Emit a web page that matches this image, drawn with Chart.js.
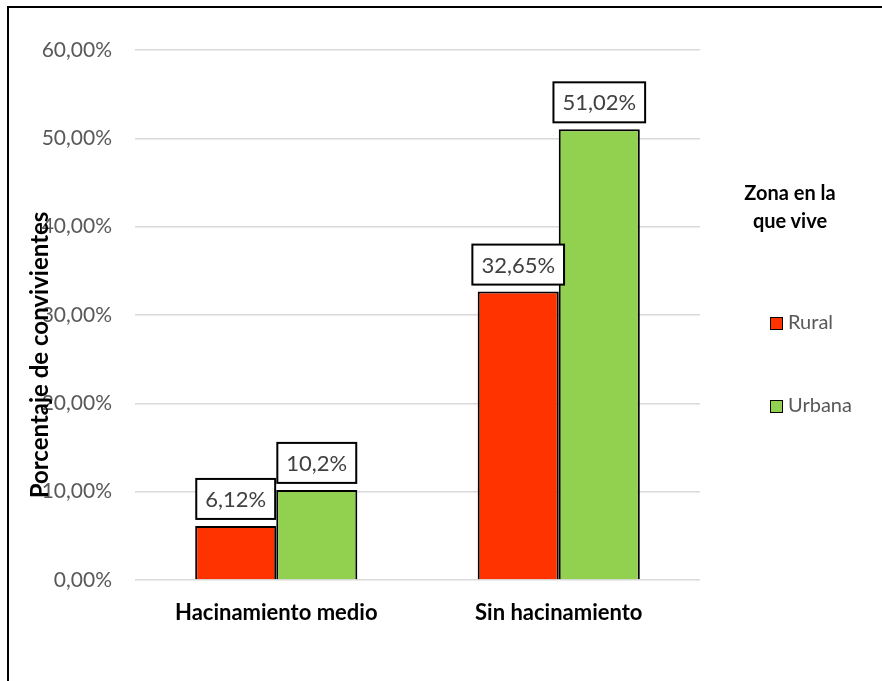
<!DOCTYPE html>
<html>
<head>
<meta charset="utf-8">
<script src="https://cdn.jsdelivr.net/npm/chart.js@4.4.1/dist/chart.umd.min.js"></script>
<style>
  html, body { margin: 0; padding: 0; background: #fff; }
  #wrap { position: relative; width: 882px; height: 681px; overflow: hidden; }
  #frame { position: absolute; left: 7px; top: 6px; width: 900px; height: 700px;
           border-top: 2px solid #000; border-left: 2px solid #000; }
  #chart { position: absolute; left: 0; top: 0; }
  #legend { position: absolute; left: 720px; top: 178px; width: 140px;
            font-family: Lato, sans-serif; }
  #legend .title { text-align: center; font-weight: bold; font-size: 20px; line-height: 28px; color: #000; }
  #legend .item { position: absolute; left: 50px; font-size: 20px; color: #595959; white-space: nowrap; }
  #legend .sw { display: inline-block; width: 11px; height: 11px; border: 1.5px solid #000;
                margin-right: 5px; vertical-align: -1px; }
</style>
</head>
<body>
<div id="wrap">
  <div id="frame"></div>
  <canvas id="chart" width="882" height="681"></canvas>
  <div id="legend"></div>
</div>
<script>
const categories = ['Hacinamiento medio', 'Sin hacinamiento'];
const seriesNames = ['Rural', 'Urbana'];
const rural = [6.12, 32.65];
const urbana = [10.2, 51.02];
const labelsRural = ['6,12%', '32,65%'];
const labelsUrbana = ['10,2%', '51,02%'];
const yTicks = [0, 10, 20, 30, 40, 50, 60];
const colors = ['#FF3300', '#92D050'];
const legendTitle = ['Zona en la', 'que vive'];
const axisTitle = 'Porcentaje de convivientes';

const fmtTick = v => v.toFixed(2).replace('.', ',') + '%';

const boxLabels = {
  id: 'boxLabels',
  afterDatasetsDraw(chart) {
    const ctx = chart.ctx;
    const texts = [labelsRural, labelsUrbana];
    ctx.save();
    ctx.font = '22px Lato, sans-serif';
    ctx.textAlign = 'center';
    ctx.textBaseline = 'middle';
    chart.data.datasets.forEach((ds, i) => {
      chart.getDatasetMeta(i).data.forEach((bar, j) => {
        const t = texts[i][j];
        const w = ctx.measureText(t).width + 18;
        const h = 40;
        const bottom = bar.y - 7;
        ctx.fillStyle = '#fff';
        ctx.fillRect(bar.x - w / 2, bottom - h, w, h);
        ctx.lineWidth = 2;
        ctx.strokeStyle = '#000';
        ctx.strokeRect(bar.x - w / 2, bottom - h, w, h);
        ctx.fillStyle = '#404040';
        ctx.fillText(t, bar.x, bottom - h / 2 + 1);
      });
    });
    ctx.restore();
  }
};

const yTitle = {
  id: 'yTitle',
  afterDraw(chart) {
    const ctx = chart.ctx;
    const a = chart.chartArea;
    ctx.save();
    ctx.translate(a.left - 95, (a.top + a.bottom) / 2 + 40);
    ctx.rotate(-Math.PI / 2);
    ctx.font = 'bold 24px Lato, sans-serif';
    ctx.fillStyle = '#000';
    ctx.textAlign = 'center';
    ctx.textBaseline = 'middle';
    ctx.fillText(axisTitle, 0, 0);
    ctx.restore();
  }
};

new Chart(document.getElementById('chart'), {
  type: 'bar',
  data: {
    labels: categories,
    datasets: [
      { label: seriesNames[0], data: rural, backgroundColor: colors[0],
        borderColor: '#000', borderWidth: 2, borderSkipped: 'bottom' },
      { label: seriesNames[1], data: urbana, backgroundColor: colors[1],
        borderColor: '#000', borderWidth: 2, borderSkipped: 'bottom' }
    ]
  },
  options: {
    responsive: false,
    animation: false,
    layout: { padding: { left: 0, right: 182, top: 50, bottom: 0 } },
    categoryPercentage: 0.574,
    barPercentage: 1,
    plugins: {
      legend: { display: false },
      tooltip: { enabled: false }
    },
    scales: {
      x: {
        grid: { display: false, drawTicks: false },
        border: { display: false },
        ticks: { color: '#000', font: { family: 'Lato', size: 22, weight: 'bold' }, padding: 20 },
        afterFit: s => { s.height = 101; }
      },
      y: {
        min: 0,
        max: 60,
        afterBuildTicks: s => { s.ticks = yTicks.map(v => ({ value: v })); },
        grid: { color: '#d9d9d9', lineWidth: 1.5, drawTicks: false },
        border: { display: false },
        ticks: { color: '#595959', font: { family: 'Lato', size: 21 }, padding: 23,
                 callback: v => fmtTick(v) },
        afterFit: s => { s.width = 135; }
      }
    }
  },
  plugins: [boxLabels, yTitle]
});

const legend = document.getElementById('legend');
legend.innerHTML = '<div class="title">' + legendTitle.join('<br>') + '</div>';
seriesNames.forEach((name, i) => {
  const d = document.createElement('div');
  d.className = 'item';
  d.style.top = (131 + i * 83) + 'px';
  d.innerHTML = '<span class="sw" style="background:' + colors[i] + '"></span>' + name;
  legend.appendChild(d);
});
</script>
</body>
</html>
